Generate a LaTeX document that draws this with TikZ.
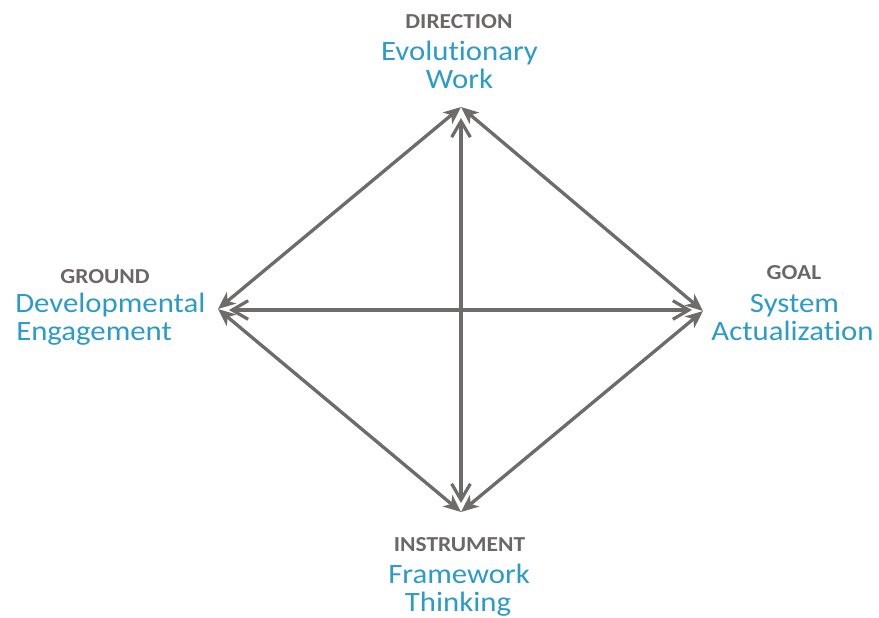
\documentclass[tikz,border=0pt]{standalone}
\usepackage{fontspec}
\setmainfont{Carlito}[FakeStretch=1.10,Ligatures=NoCommon]
\usetikzlibrary{arrows.meta}
\definecolor{linegray}{HTML}{6E6B6B}
\definecolor{headgray}{HTML}{6B6767}
\definecolor{termblue}{HTML}{2C9BC8}
\begin{document}
\begin{tikzpicture}[x=0.75pt,y=-0.75pt,
  heading/.style={anchor=base,inner sep=0pt,text=headgray,font=\fontsize{16pt}{19pt}\selectfont\bfseries},
  term/.style={anchor=base,inner sep=0pt,text=termblue,font=\fontsize{21pt}{25pt}\selectfont},
  barb/.tip={Straight Barb[length=12pt,width=14pt,line width=2.4pt]},
  wedge/.tip={Stealth[length=13pt,width=11pt,inset=3.5pt]},
  axisline/.style={draw=linegray,line width=2.5pt,barb-barb},
  edgeline/.style={draw=linegray,line width=2.5pt,wedge-wedge}]
\useasboundingbox (0,0) rectangle (879,618);

% corners of the diamond
\coordinate (top) at (461,107);
\coordinate (left) at (218,309);
\coordinate (right) at (703,311);
\coordinate (bottom) at (461,512);
% ends of the cross
\coordinate (crossN) at (461,118);
\coordinate (crossS) at (461,503);
\coordinate (crossW) at (229,310);
\coordinate (crossE) at (692,310);

% outer edges
\draw[edgeline] (left) -- (top);
\draw[edgeline] (top) -- (right);
\draw[edgeline] (right) -- (bottom);
\draw[edgeline] (bottom) -- (left);
% cross
\draw[axisline] (crossN) -- (crossS);
\draw[axisline] (crossW) -- (crossE);

% labels
\node[heading] (dirhead) at (459,28) {DIRECTION};
\node[term] (dir1) at (459.5,60) {Evolutionary};
\node[term] (dir2) at (459.5,88) {Work};

\node[heading] (groundhead) at (105,283) {GROUND};
\node[term,anchor=base west] (ground1) at (15,312) {Developmental};
\node[term,anchor=base west] (ground2) at (16,340) {Engagement};

\node[heading] (goalhead) at (794,279) {GOAL};
\node[term] (goal1) at (794.5,312) {System};
\node[term] (goal2) at (792.5,340) {Actualization};

\node[heading] (insthead) at (459.5,551) {INSTRUMENT};
\node[term] (inst1) at (459,583) {Framework};
\node[term] (inst2) at (458,611) {Thinking};
\end{tikzpicture}
\end{document}
